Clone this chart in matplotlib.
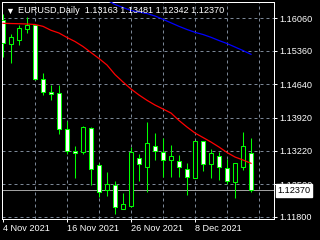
import pandas as pd
import matplotlib
matplotlib.use("Agg")
import matplotlib.pyplot as plt

# EURUSD daily candles, 4 Nov - 17 Dec 2021
dates = pd.bdate_range("2021-11-04", "2021-12-17")
opens = [1.16017, 1.15497, 1.15595, 1.15818, 1.15910, 1.14748, 1.14476, 1.14448,
         1.13677, 1.13219, 1.13198, 1.13699, 1.12913, 1.12371, 1.12478, 1.11977,
         1.12029, 1.13056, 1.12864, 1.13313, 1.13185, 1.13014, 1.13005, 1.12821,
         1.12641, 1.13420, 1.12928, 1.13099, 1.12842, 1.12555, 1.12876, 1.13163]
highs = [1.16146, 1.15717, 1.15910, 1.16075, 1.15932, 1.14876, 1.14619, 1.14632,
         1.13855, 1.13320, 1.13754, 1.13720, 1.12962, 1.12763, 1.12570, 1.12313,
         1.13292, 1.13142, 1.13827, 1.13592, 1.13491, 1.13341, 1.13121, 1.12949,
         1.13427, 1.13437, 1.13249, 1.13185, 1.13035, 1.12956, 1.13619, 1.13481]
lows = [1.15225, 1.15103, 1.15488, 1.15745, 1.14733, 1.14412, 1.14304, 1.13570,
        1.13148, 1.12641, 1.13142, 1.12491, 1.12234, 1.12256, 1.11870, 1.11971,
        1.12014, 1.12570, 1.12341, 1.13020, 1.12656, 1.12656, 1.12656, 1.12277,
        1.12628, 1.12784, 1.12641, 1.12598, 1.12513, 1.12213, 1.12806, 1.12342]
closes = [1.15518, 1.15647, 1.15846, 1.15910, 1.14748, 1.14482, 1.14426, 1.13677,
          1.13206, 1.13170, 1.13720, 1.12834, 1.12328, 1.12500, 1.12007, 1.12072,
          1.13185, 1.12928, 1.13378, 1.13206, 1.13014, 1.13099, 1.12864, 1.12662,
          1.13420, 1.12928, 1.13163, 1.12864, 1.12577, 1.12949, 1.13313, 1.12370]

# moving averages as drawn on the chart
ma_fast = [1.15947, 1.15942, 1.15938, 1.15932, 1.15921, 1.15882, 1.15797, 1.15739,
           1.15643, 1.15557, 1.15450, 1.15321, 1.15193, 1.15054, 1.14850, 1.14690,
           1.14540, 1.14412, 1.14298, 1.14197, 1.14112, 1.14026, 1.13866, 1.13726,
           1.13598, 1.13502, 1.13405, 1.13298, 1.13181, 1.13084, 1.13020, 1.12949]
ma_slow_start = 12
ma_slow = [1.16510, 1.16445, 1.16349, 1.16285, 1.16221, 1.16188, 1.16156, 1.16103,
           1.16032, 1.15957, 1.15882, 1.15814, 1.15754, 1.15707, 1.15647, 1.15578,
           1.15514, 1.15439, 1.15364, 1.15283]

price_ticks = [1.16060, 1.15360, 1.14640, 1.13920, 1.13220, 1.12500, 1.11800]
date_tick_idx = [0, 8, 16, 24]
grid_idx = [4, 8, 12, 16, 20, 24, 28, 32]

FONT = ["Liberation Sans", "DejaVu Sans"]
LIME = "#00ff00"
GRID = "#7b8796"

fig = plt.figure(figsize=(3.2, 2.4), dpi=100, facecolor="black")
ax = fig.add_axes([2 / 320, 21 / 240, 272 / 320, 217 / 240], facecolor="black")

x = list(range(len(dates)))

# grid
for p in price_ticks:
    ax.axhline(p, color=GRID, lw=0.72, ls=(0, (3, 3)), zorder=0)
for g in grid_idx:
    ax.axvline(g, color=GRID, lw=0.72, ls=(0, (3, 3)), zorder=0)

# current price line
ax.axhline(closes[-1], color="#a0a0a0", lw=0.72, zorder=1)

# candles
ax.vlines(x, lows, highs, color=LIME, lw=0.75, zorder=2)
bodies = [abs(c - o) for o, c in zip(opens, closes)]
bottoms = [min(o, c) for o, c in zip(opens, closes)]
fills = ["black" if c > o else "white" for o, c in zip(opens, closes)]
ax.bar(x, bodies, bottom=bottoms, width=0.5, color=fills, edgecolor=LIME,
       linewidth=0.75, zorder=3)

# moving averages
ax.plot(x, ma_fast, color="#ff0000", lw=0.9, zorder=4)
ax.plot(range(ma_slow_start, ma_slow_start + len(ma_slow)), ma_slow,
        color="#0000ff", lw=0.9, zorder=4)

ax.set_xlim(-0.125, 33.875)
ax.set_ylim(1.11757, 1.16403)

for s in ax.spines.values():
    s.set_color("white")
    s.set_linewidth(0.72)

ax.yaxis.tick_right()
ax.set_yticks(price_ticks)
ax.set_yticklabels([f"{p:.5f}" for p in price_ticks])
ax.set_xticks(date_tick_idx)
ax.set_xticklabels([f"{dates[i].day} {dates[i]:%b %Y}" for i in date_tick_idx])
ax.tick_params(colors="white", labelcolor="white", labelsize=6.6, length=2.2,
               width=0.72, pad=1.5)
for lbl in ax.get_xticklabels():
    lbl.set_ha("left")
    lbl.set_family(FONT)
for lbl in ax.get_yticklabels():
    lbl.set_family(FONT)

# last price box
ax.text(1.0129, closes[-1], f"{closes[-1]:.5f}", transform=ax.get_yaxis_transform(),
        ha="left", va="center", fontsize=6.6, family=FONT, color="black",
        bbox=dict(boxstyle="square,pad=0.18", fc="white", ec="white"), zorder=6)

# header
fig.text(5.5 / 320, 1 - 11 / 240, "\u25bc", color="white", fontsize=6.5, family=FONT,
         ha="left", va="center")
fig.text(18 / 320, 1 - 10.5 / 240,
         f"EURUSD,Daily  {opens[-1]:.5f} {highs[-1]:.5f} {lows[-1]:.5f} {closes[-1]:.5f}",
         color="white", fontsize=6.6, family=FONT, ha="left", va="center")

fig.savefig("out.png", dpi=100, facecolor="black")
